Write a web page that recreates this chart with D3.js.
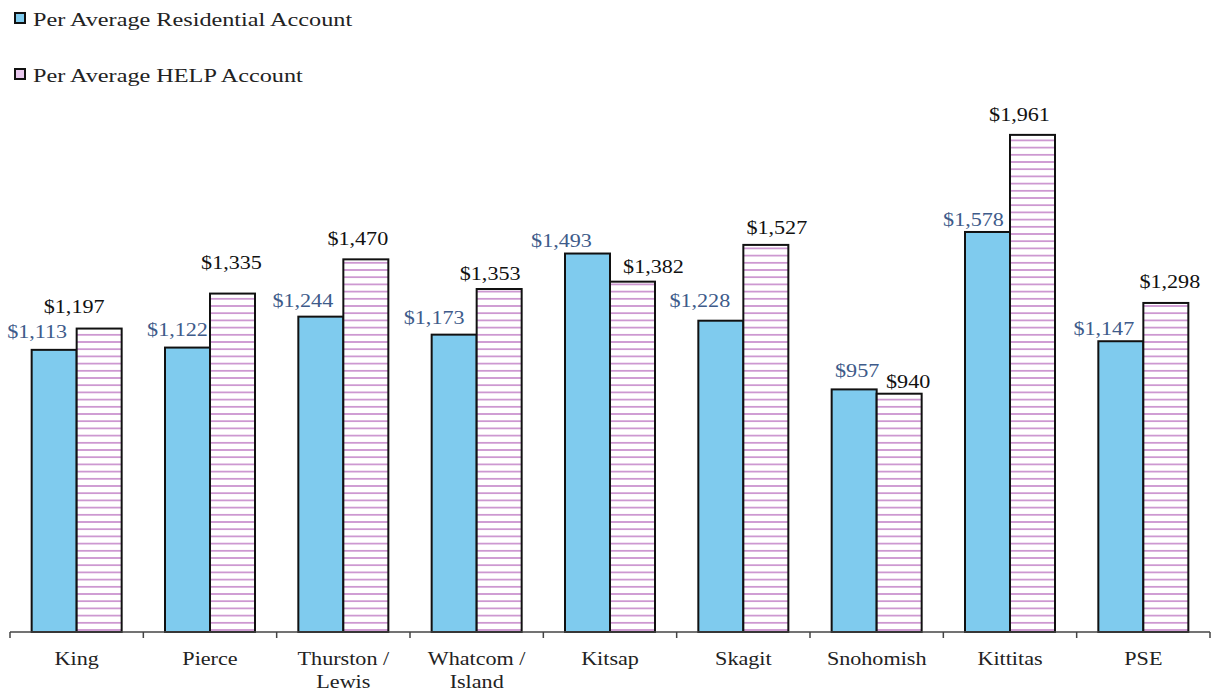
<!DOCTYPE html>
<html>
<head>
<meta charset="utf-8">
<script src="https://cdn.jsdelivr.net/npm/d3@7"></script>
<style>
  html, body { margin: 0; padding: 0; background: #fff; }
  svg { display: block; }
  text { font-family: "Liberation Serif", "Times New Roman", serif; }
</style>
</head>
<body>
<svg id="chart" width="1217" height="692"></svg>
<script>
// Annual cost by service area
const categories = ["King", "Pierce", "Thurston / Lewis", "Whatcom / Island", "Kitsap", "Skagit", "Snohomish", "Kittitas", "PSE"];
const categoryLines = [["King"], ["Pierce"], ["Thurston /", "Lewis"], ["Whatcom /", "Island"], ["Kitsap"], ["Skagit"], ["Snohomish"], ["Kittitas"], ["PSE"]];
const residential = [1113, 1122, 1244, 1173, 1493, 1228, 957, 1578, 1147];
const help = [1197, 1335, 1470, 1353, 1382, 1527, 940, 1961, 1298];
const seriesNames = ["Per Average Residential Account", "Per Average HELP Account"];

// Label placement nudges: [horizontal shift from bar centre, lift above bar top]
const residentialLabelNudge = [[-17, 12], [-10, 12], [-18, 10], [-20, 11], [-26, 7], [-21, 14], [3, 12], [-14, 6], [-17, 6]];
const helpLabelNudge = [[-25, 16], [-1, 25], [-8, 14], [-9, 9], [21, 9], [11, 11], [9, 6], [-13, 14], [4, 15]];

const svg = d3.select("#chart");
const SX = 1.23; // horizontal text stretch

const baseY = 632;
const x = d3.scaleBand().domain(categories).range([10, 1210]).paddingInner(0.325).paddingOuter(0.1625);
const xs = d3.scaleBand().domain([0, 1]).range([0, x.bandwidth()]);
const y = d3.scaleLinear().domain([0, 2000]).range([baseY, 125]);

const fmt = v => "$" + d3.format(",")(v);

// Hatch pattern for HELP bars
const defs = svg.append("defs");
const pat = defs.append("pattern")
  .attr("id", "hatch")
  .attr("patternUnits", "userSpaceOnUse")
  .attr("width", 10).attr("height", 7.2);
pat.append("rect").attr("width", 10).attr("height", 7.2).attr("fill", "#fff");
pat.append("line").attr("x1", 0).attr("x2", 10).attr("y1", 3.6).attr("y2", 3.6)
  .attr("stroke", "#c78bcb").attr("stroke-width", 1.6);

const fills = ["#7fcbee", "url(#hatch)"];
const labelColors = ["#3e5b8a", "#111"];
const series = [residential, help];
const nudges = [residentialLabelNudge, helpLabelNudge];

function stretchedText(g, tx, ty, str, size, color) {
  return g.append("text")
    .attr("transform", `translate(${tx},${ty}) scale(${SX},1)`)
    .attr("text-anchor", "middle")
    .attr("font-size", size)
    .attr("fill", color)
    .text(str);
}

// Bars
series.forEach((vals, si) => {
  const g = svg.append("g");
  g.selectAll("rect").data(vals).join("rect")
    .attr("x", (d, i) => x(categories[i]) + xs(si))
    .attr("y", d => y(d))
    .attr("width", xs.bandwidth())
    .attr("height", d => baseY - y(d))
    .attr("fill", fills[si])
    .attr("stroke", "#111")
    .attr("stroke-width", 2);
});

// Value labels
series.forEach((vals, si) => {
  const g = svg.append("g");
  vals.forEach((v, i) => {
    const cx = x(categories[i]) + xs(si) + xs.bandwidth() / 2 + nudges[si][i][0];
    const cy = y(v) - nudges[si][i][1];
    stretchedText(g, cx, cy, fmt(v), 18, labelColors[si]);
  });
});

// Category axis
const axis = svg.append("g");
axis.append("line")
  .attr("x1", x.range()[0]).attr("x2", x.range()[1])
  .attr("y1", baseY).attr("y2", baseY)
  .attr("stroke", "#444").attr("stroke-width", 1.5);
const bounds = categories.map(c => x(c) - x.step() * x.paddingOuter()).concat([x.range()[1]]);
axis.selectAll("line.tick").data(bounds).join("line")
  .attr("class", "tick")
  .attr("x1", d => d).attr("x2", d => d)
  .attr("y1", baseY).attr("y2", baseY + 6)
  .attr("stroke", "#444").attr("stroke-width", 1.5);
categoryLines.forEach((lines, i) => {
  const cx = x(categories[i]) + x.bandwidth() / 2;
  lines.forEach((ln, k) => stretchedText(axis, cx, 665 + k * 23, ln, 18, "#222"));
});

// Legend
const legend = svg.append("g");
seriesNames.forEach((name, si) => {
  const ly = 13 + si * 56;
  legend.append("rect")
    .attr("x", 15).attr("y", ly).attr("width", 10).attr("height", 10)
    .attr("fill", si === 0 ? fills[0] : "#e9c8ee")
    .attr("stroke", "#111").attr("stroke-width", 2);
  legend.append("text")
    .attr("transform", `translate(33,${ly + 13}) scale(${SX},1)`)
    .attr("font-size", 19.7)
    .attr("fill", "#222")
    .text(name);
});
</script>
</body>
</html>
